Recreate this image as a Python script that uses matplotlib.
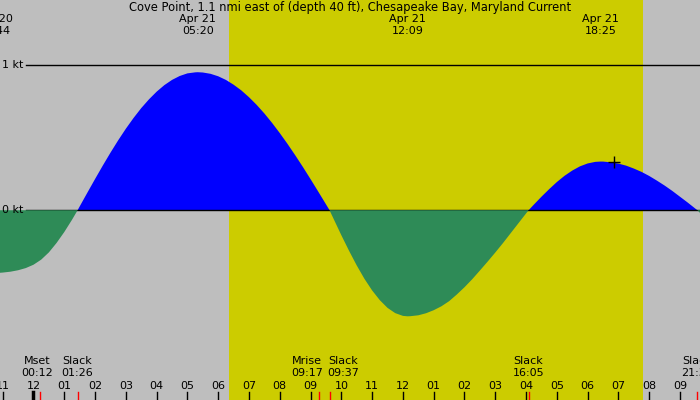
import matplotlib
matplotlib.use("Agg")
import matplotlib.pyplot as plt
import numpy as np

# hours relative to midnight, Apr 21 (every quarter hour + slack/max points)
curve_hours = [-1.5, -1.25, -1.0, -0.75, -0.5, -0.25, 0.0, 0.25, 0.5, 0.75, 1.0, 1.25, 1.433,
               1.5, 1.75, 2.0, 2.25, 2.5, 2.75, 3.0, 3.25, 3.5, 3.75, 4.0, 4.25, 4.5, 4.75,
               5.0, 5.25, 5.333, 5.5, 5.75, 6.0, 6.25, 6.5, 6.75, 7.0, 7.25, 7.5, 7.75, 8.0,
               8.25, 8.5, 8.75, 9.0, 9.25, 9.5, 9.617, 9.75, 10.0, 10.25, 10.5, 10.75, 11.0,
               11.25, 11.5, 11.75, 12.0, 12.15, 12.25, 12.5, 12.75, 13.0, 13.25, 13.5, 13.75,
               14.0, 14.25, 14.5, 14.75, 15.0, 15.25, 15.5, 15.75, 16.0, 16.083, 16.25, 16.5,
               16.75, 17.0, 17.25, 17.5, 17.75, 18.0, 18.25, 18.417, 18.5, 18.75, 19.0, 19.25,
               19.5, 19.75, 20.0, 20.25, 20.5, 20.75, 21.0, 21.25, 21.5, 21.567, 21.75, 22.0]
curve_kt = [-0.432, -0.433, -0.429, -0.423, -0.413, -0.398, -0.375, -0.34, -0.29, -0.225,
            -0.15, -0.066, 0.0,
            0.026, 0.121, 0.215, 0.307, 0.396, 0.481, 0.561, 0.635, 0.703, 0.763, 0.816,
            0.861, 0.897, 0.924, 0.942, 0.949, 0.95,
            0.948, 0.939, 0.922, 0.897, 0.864, 0.825, 0.778, 0.725, 0.666, 0.601, 0.531,
            0.457, 0.379, 0.298, 0.214, 0.128, 0.041, 0.0,
            -0.06, -0.172, -0.279, -0.38, -0.472, -0.552, -0.619, -0.672, -0.708, -0.727,
            -0.73,
            -0.729, -0.723, -0.709, -0.688, -0.661, -0.626, -0.58, -0.53, -0.475, -0.415,
            -0.354, -0.291, -0.226, -0.158, -0.09, -0.022, 0.0,
            0.038, 0.093, 0.145, 0.194, 0.237, 0.273, 0.302, 0.322, 0.333, 0.335,
            0.335, 0.33, 0.321, 0.307, 0.287, 0.264, 0.236, 0.204, 0.17, 0.133, 0.093,
            0.053, 0.011, 0.0, -0.04, -0.09]

# max / min current labels (top)
peak_hours = [-1.267, 5.333, 12.15, 18.417]
peak_dates = ["Apr 20", "Apr 21", "Apr 21", "Apr 21"]
peak_times = ["22:44", "05:20", "12:09", "18:25"]

# slack and moon events (bottom)
event_hours = [0.2, 1.433, 9.283, 9.617, 16.083, 21.567]
event_names = ["Mset", "Slack", "Mrise", "Slack", "Slack", "Slack"]
event_times = ["00:12", "01:26", "09:17", "09:37", "16:05", "21:34"]
event_nudge = [-0.08, 0.0, -0.4, 0.45, 0.0, 0.0]

hour_ticks = list(range(-1, 22))
hour_labels = ["11", "12", "01", "02", "03", "04", "05", "06", "07", "08", "09", "10",
               "11", "12", "01", "02", "03", "04", "05", "06", "07", "08", "09"]

sunrise, sunset = 6.349, 19.795
marker_hour, marker_kt = 18.85, 0.33

XMIN, XMAX = -1.088, 21.65
YMIN, YMAX = -1.306, 1.447
PX = 145.3  # pixels per knot

fig = plt.figure(figsize=(7, 4), dpi=100)
ax = fig.add_axes([0, 0, 1, 1])
ax.set_xlim(XMIN, XMAX)
ax.set_ylim(YMIN, YMAX)
ax.axis("off")
fig.patch.set_facecolor("#bebebe")

ax.axvspan(sunrise, sunset, color="#cccc00", lw=0, zorder=1)

h = np.array(curve_hours)
v = np.array(curve_kt)
ax.fill_between(h, v, 0, where=v >= 0, interpolate=True, color="#0000ff", lw=0, zorder=2)

x0 = XMIN + 26 / 700 * (XMAX - XMIN)
ax.plot([x0, 22], [1, 1], color="black", lw=1, zorder=3)
ax.plot([x0, 22], [0, 0], color="black", lw=1, zorder=3)
ax.fill_between(h, v, 0, where=v <= 0, interpolate=True, color="#2e8b57", lw=0, zorder=4)

ax.text(XMIN + 0.06, 1, "1 kt", fontsize=8, va="center", ha="left", zorder=5)
ax.text(XMIN + 0.06, 0, "0 kt", fontsize=8, va="center", ha="left", zorder=5)

ax.plot(marker_hour, marker_kt, marker="+", color="black", ms=8, mew=1, zorder=6)

ax.text(0.5, 1 - 8 / 400, "Cove Point, 1.1 nmi east of (depth 40 ft), Chesapeake Bay, Maryland Current",
        transform=ax.transAxes, fontsize=8.3, ha="center", va="center")

for ph, pd_, pt in zip(peak_hours, peak_dates, peak_times):
    ax.text(ph, YMAX - 19 / PX, pd_, fontsize=8, ha="center", va="center")
    ax.text(ph, YMAX - 31 / PX, pt, fontsize=8, ha="center", va="center")

for eh, en, et, nd in zip(event_hours, event_names, event_times, event_nudge):
    ax.text(eh + nd, YMIN + 39 / PX, en, fontsize=8, ha="center", va="center")
    ax.text(eh + nd, YMIN + 27 / PX, et, fontsize=8, ha="center", va="center")
    ax.plot([eh, eh], [YMIN, YMIN + 8 / PX], color="red", lw=1, zorder=6)

for ht, hl in zip(hour_ticks, hour_labels):
    ax.text(ht, YMIN + 14 / PX, hl, fontsize=8, ha="center", va="center")
    ax.plot([ht, ht], [YMIN, YMIN + 8 / PX], color="black",
            lw=2.5 if ht == 0 else 1, zorder=5)

fig.savefig("out.png", dpi=100, facecolor=fig.get_facecolor())
